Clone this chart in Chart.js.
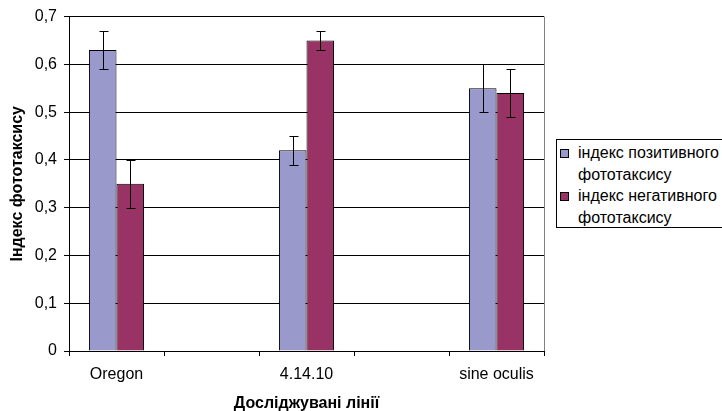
<!DOCTYPE html>
<html>
<head>
<meta charset="utf-8">
<script src="https://cdn.jsdelivr.net/npm/chart.js@4/dist/chart.umd.min.js"></script>
<style>
  html, body { margin: 0; padding: 0; background: #fff; }
  #wrap { position: relative; width: 722px; height: 411px; overflow: hidden; }
  #legend {
    position: absolute; left: 556px; top: 139px; width: 180px; height: 89px;
    border: 1px solid #000; background: #fff; box-sizing: border-box;
    font-family: "Liberation Sans", Arial, sans-serif; font-size: 16px; color: #000;
  }
  .item { position: absolute; left: 21px; line-height: 21.5px; white-space: nowrap; }
  .sw { position: absolute; left: 3px; width: 7px; height: 7px; border: 1px solid #000; }
</style>
</head>
<body>
<div id="wrap">
  <canvas id="c" width="722" height="411"></canvas>
  <div id="legend"></div>
</div>
<script>
const categories = ['Oregon', '', '4.14.10', '', 'sine oculis'];
const seriesNames = ['індекс позитивного фототаксису', 'індекс негативного фототаксису'];
const positive = [0.63, null, 0.42, null, 0.55];
const negative = [0.35, null, 0.65, null, 0.54];
const positiveErr = [0.04, null, 0.03, null, 0.05];
const negativeErr = [0.05, null, 0.02, null, 0.05];
const yTitle = 'Індекс фототаксису';
const xTitle = 'Досліджувані лінії';
const colors = ['#9999CC', '#993366'];

const FONT = '"Liberation Sans", Arial, sans-serif';

const errorBars = {
  id: 'errorBars',
  afterDatasetsDraw(chart) {
    const ctx = chart.ctx;
    const y = chart.scales.y;
    const errs = [positiveErr, negativeErr];
    ctx.save();
    ctx.strokeStyle = '#000';
    ctx.lineWidth = 1;
    chart.data.datasets.forEach((ds, di) => {
      const meta = chart.getDatasetMeta(di);
      meta.data.forEach((bar, i) => {
        const v = ds.data[i], e = errs[di][i];
        if (v == null || e == null) return;
        const x = Math.round(bar.x) + 0.5;
        const yt = Math.round(y.getPixelForValue(v + e)) + 0.5;
        const yb = Math.round(y.getPixelForValue(v - e)) + 0.5;
        ctx.beginPath();
        ctx.moveTo(x, yt); ctx.lineTo(x, yb);
        ctx.moveTo(x - 4, yt); ctx.lineTo(x + 5, yt);
        ctx.moveTo(x - 4, yb); ctx.lineTo(x + 5, yb);
        ctx.stroke();
      });
    });
    ctx.restore();
  }
};

const plotBorder = {
  id: 'plotBorder',
  beforeDatasetsDraw(chart) {
    const a = chart.chartArea, ctx = chart.ctx;
    ctx.save();
    ctx.strokeStyle = '#808080';
    ctx.lineWidth = 1;
    ctx.beginPath();
    ctx.moveTo(Math.round(a.right) + 0.5, a.top);
    ctx.lineTo(Math.round(a.right) + 0.5, a.bottom);
    ctx.stroke();
    ctx.restore();
  }
};

new Chart(document.getElementById('c'), {
  type: 'bar',
  data: {
    labels: categories,
    datasets: [
      { label: seriesNames[0], data: positive, backgroundColor: colors[0], borderColor: '#000', borderWidth: 1 },
      { label: seriesNames[1], data: negative, backgroundColor: colors[1], borderColor: '#000', borderWidth: 1 }
    ]
  },
  options: {
    responsive: false,
    animation: false,
    events: [],
    layout: { padding: { left: 8, right: 178, top: 16, bottom: 0 } },
    plugins: {
      legend: { display: false },
      tooltip: { enabled: false }
    },
    datasets: { bar: { categoryPercentage: 0.58, barPercentage: 1.0 } },
    scales: {
      x: {
        afterFit: s => { s.height = 60; },
        grid: { display: true, offset: true, drawOnChartArea: false, drawTicks: true, tickLength: 5, color: '#000' },
        border: { display: true, color: '#000', width: 1 },
        ticks: { color: '#000', font: { family: FONT, size: 16 }, padding: 9, maxRotation: 0, autoSkip: false },
        title: { display: true, text: xTitle, color: '#000', font: { family: FONT, size: 16, weight: 'bold' }, padding: { top: 4, bottom: -2 } }
      },
      y: {
        min: 0, max: 0.7,
        afterFit: s => { s.width = 61; },
        grid: { color: '#000', tickLength: 5, drawTicks: true },
        border: { display: true, color: '#000', width: 1 },
        ticks: {
          stepSize: 0.1, color: '#000', font: { family: FONT, size: 16 }, padding: 7,
          callback: v => (Math.round(v * 10) / 10 === 0 ? '0' : (Math.round(v * 10) / 10).toFixed(1).replace('.', ','))
        },
        title: { display: true, text: yTitle, color: '#000', font: { family: FONT, size: 16, weight: 'bold' }, padding: { top: 0, bottom: 4 } }
      }
    }
  },
  plugins: [plotBorder, errorBars]
});

// HTML legend built from series names/colors
const leg = document.getElementById('legend');
seriesNames.forEach((name, i) => {
  const words = name.split(' ');
  const top = 2 + i * 43;
  const sw = document.createElement('div');
  sw.className = 'sw';
  sw.style.top = (top + 7) + 'px';
  sw.style.background = colors[i];
  leg.appendChild(sw);
  const t1 = document.createElement('div');
  t1.className = 'item'; t1.style.top = top + 'px';
  t1.textContent = words.slice(0, 2).join(' ');
  leg.appendChild(t1);
  const t2 = document.createElement('div');
  t2.className = 'item'; t2.style.top = (top + 21.5) + 'px';
  t2.textContent = words.slice(2).join(' ');
  leg.appendChild(t2);
});
</script>
</body>
</html>
